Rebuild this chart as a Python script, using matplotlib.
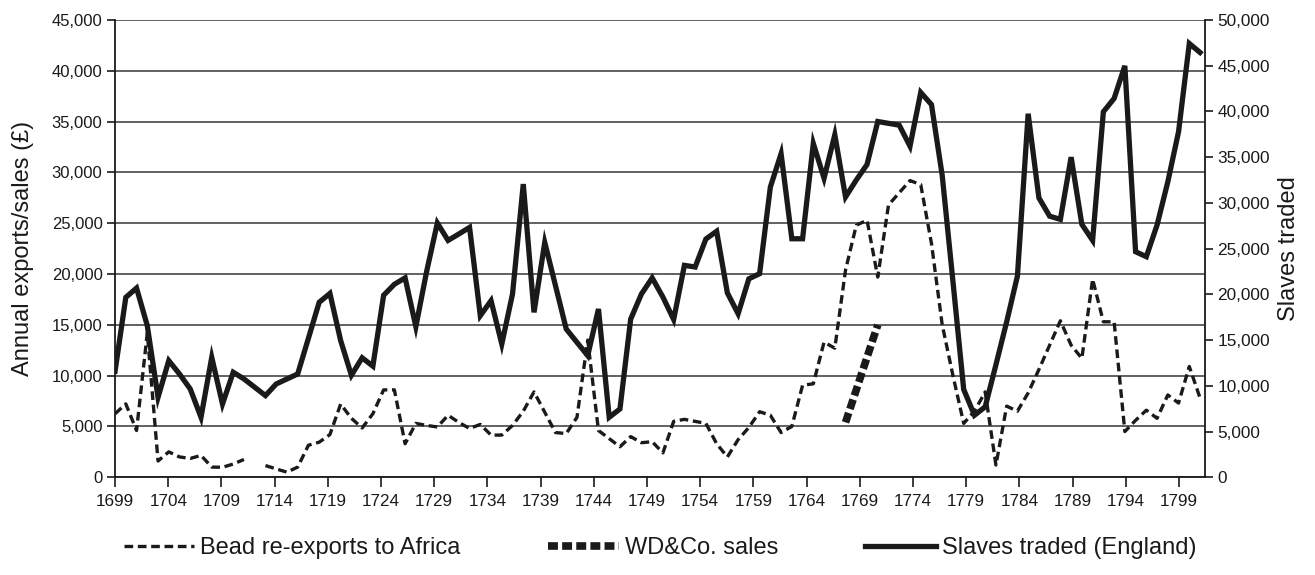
import numpy as np
import matplotlib
matplotlib.use("Agg")
import matplotlib.pyplot as plt
from matplotlib.ticker import FuncFormatter, MultipleLocator

plt.rcParams['font.family'] = ['Liberation Sans', 'DejaVu Sans']

# ==============================================================================
# DATA
# ==============================================================================
years = list(range(1699, 1801))

bead_exports = [
    6250, 7220, 4600, 14200, 1600, 2500, 2000, 1850, 2150, 1000,      # 1699-1708
    980, 1300, 1750, np.nan, 1150, 820, 500, 1000, 3150, 3450,         # 1709-1718
    4200, 7200, 5800, 4850, 6250, 8600, 8600, 3300, 5300, 5100,        # 1719-1728
    4950, 6100, 5400, 4800, 5200, 4150, 4150, 5100, 6500, 8400,        # 1729-1738
    6400, 4400, 4300, 5900, 13500, 4600, 3800, 3000, 4000, 3400,       # 1739-1748
    3500, 2400, 5500, 5700, 5500, 5300, 3300, 2000, 3700, 4900,        # 1749-1758
    6450, 6100, 4400, 5000, 9050, 9200, 13300, 12700, 20400, 24800,    # 1759-1768
    25300, 19700, 26800, 28000, 29200, 28800, 23000, 15000, 10000, 5300,  # 1769-1778
    6500, 8400, 1200, 7000, 6500, 8300, 10600, 13000, 15400, 13000,    # 1779-1788
    11700, 19500, 15300, 15300, 4500, 5600, 6600, 5800, 8100, 7300,    # 1789-1798
    10900, 7800,                                                       # 1799-1800
]

slaves_traded = [
    11600, 19670, 20690, 16580, 8740, 12750, 11290, 9650, 6560, 13110,      # 1699-1708
    8010, 11480, 10750, 9840, 8930, 10200, 10750, 11290, 15200, 19130,      # 1709-1718
    20100, 14950, 11150, 13060, 12150, 19900, 21100, 21800, 16470, 22480,   # 1719-1728
    27800, 25900, 26600, 27320, 17670, 19310, 14570, 20040, 32060, 18030,   # 1729-1738
    25680, 20950, 16210, 14750, 13300, 18400, 6560, 7470, 17300, 20040,     # 1739-1748
    21800, 19700, 17250, 23170, 22990, 26050, 26900, 20160, 17880, 21700,   # 1749-1758
    22260, 31730, 35380, 26080, 26080, 36500, 32700, 37450, 30650, 32500,   # 1759-1768
    34200, 38900, 38700, 38500, 36200, 42080, 40750, 33000, 21400, 9600,    # 1769-1778
    6780, 7700, 12300, 17000, 22000, 39750, 30550, 28550, 28200, 35000,     # 1779-1788
    27650, 25900, 39960, 41420, 44990, 24660, 24120, 27580, 32300, 37780,   # 1789-1798
    47430, 46450,                                                           # 1799-1800
]

wd_years = [1767, 1768, 1769, 1770]
wd_sales = [5400, 8600, 11800, 15000]

tick_years = list(range(1699, 1800, 5))

# ==============================================================================
# FIGURE
# ==============================================================================
INK = '#1a1a1a'
fig = plt.figure(figsize=(13.15, 5.75), dpi=100)
ax = fig.add_axes([0.0875, 0.170, 0.8288, 0.7952])

# series sit on their own category scale, labels on a slightly longer one
ax.set_xlim(1699, 1800.456)
ax.set_ylim(0, 45000)
ax.yaxis.set_major_locator(MultipleLocator(5000))
ax.yaxis.set_major_formatter(FuncFormatter(lambda v, p: f"{int(v):,}"))
ax.grid(axis='y', color='#555555', linewidth=1.3)
ax.set_axisbelow(True)
ax.tick_params(axis='y', direction='out', length=6, width=1.2, color=INK,
               labelsize=12, labelcolor=INK, pad=3)
for s in ['top', 'right']:
    ax.spines[s].set_visible(False)
ax.spines['left'].set_color(INK)
ax.spines['left'].set_linewidth(1.3)
ax.spines['bottom'].set_color(INK)
ax.spines['bottom'].set_linewidth(1.3)
ax.set_ylabel("Annual exports/sales (£)", fontsize=17, color=INK, labelpad=13)

bead_line, = ax.plot(years, bead_exports, color=INK, linewidth=2.4,
                     dashes=(2.6, 1.4), solid_joinstyle='miter',
                     label='Bead re-exports to Africa')
wd_line, = ax.plot(wd_years, wd_sales, color=INK, linewidth=5.5,
                   dashes=(1.3, 0.55), label='WD&Co. sales')

# --- right axis: slaves ---
ax_r = ax.twinx()
ax_r.set_ylim(0, 50000)
ax_r.yaxis.set_major_locator(MultipleLocator(5000))
ax_r.yaxis.set_major_formatter(FuncFormatter(lambda v, p: f"{int(v):,}"))
ax_r.tick_params(axis='y', direction='out', length=6, width=1.2, color=INK,
                 labelsize=12.4, labelcolor=INK, pad=3)
for s in ['top', 'left', 'bottom']:
    ax_r.spines[s].set_visible(False)
ax_r.spines['right'].set_color(INK)
ax_r.spines['right'].set_linewidth(1.3)
ax_r.set_ylabel("Slaves traded", fontsize=17, color=INK, labelpad=6)

slave_line, = ax_r.plot(years, slaves_traded, color=INK, linewidth=3.8,
                        solid_joinstyle='miter', label='Slaves traded (England)')

# --- category labels ---
ax_lab = ax.twiny()
ax_lab.set_xlim(1699, 1801.44)
ax_lab.xaxis.set_ticks_position('bottom')
ax_lab.xaxis.set_label_position('bottom')
ax_lab.set_xticks(tick_years)
ax_lab.tick_params(axis='x', direction='out', length=7, width=1.2, color=INK,
                   labelsize=12.3, labelcolor=INK, pad=5)
for s in ax_lab.spines.values():
    s.set_visible(False)

# twiny switches the parent's bottom ticks back on
ax.tick_params(axis='x', which='both', bottom=False, top=False,
               labelbottom=False, labeltop=False)

leg = fig.legend(handles=[bead_line, wd_line, slave_line],
                 loc='center', bbox_to_anchor=(0.502, 0.047), ncol=3,
                 frameon=False, fontsize=17, handlelength=3.0,
                 columnspacing=3.7, handletextpad=0.25)
for t in leg.get_texts():
    t.set_color(INK)

fig.savefig("out.png", dpi=100)
